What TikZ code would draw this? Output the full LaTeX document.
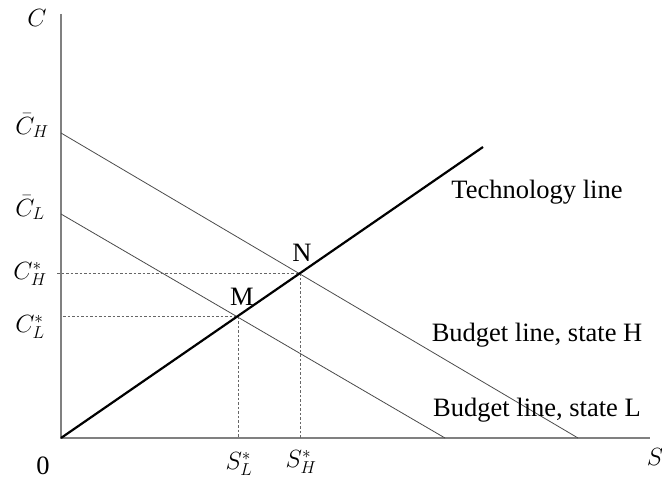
\documentclass[tikz,border=0pt]{standalone}
\usepackage{fontspec}
\setmainfont{Liberation Serif}
\begin{document}
\begin{tikzpicture}[x=1pt,y=-1pt,
  axis/.style={draw=black!50,line width=1.2pt},
  budget/.style={draw=black!70,line width=0.8pt},
  tech/.style={draw=black,line width=2.2pt},
  guide/.style={draw=black!60,line width=0.7pt,dash pattern=on 2.5pt off 2pt},
  lbl/.style={font=\fontsize{26.5}{30}\selectfont,inner sep=0pt},
  mlbl/.style={font=\fontsize{27}{30}\selectfont,inner sep=0pt}]
\useasboundingbox (0,0) rectangle (662,481);
% key coordinates
\coordinate (O) at (61,438);
\coordinate (ytop) at (61,14);
\coordinate (xend) at (650,438);
\coordinate (CH) at (61,133);
\coordinate (CL) at (61,214);
\coordinate (BH) at (578,438);
\coordinate (BL) at (445,438);
\coordinate (T) at (483,147);
\coordinate (N) at (300,273.5);
\coordinate (M) at (238,316.5);
\coordinate (NS) at (300,438);
\coordinate (MS) at (238,438);
\coordinate (NC) at (57,273.5);
\coordinate (MC) at (63,316.5);
% axes
\draw[axis] (ytop) -- (O) -- (xend);
% budget lines
\draw[budget] (CH) -- (BH);
\draw[budget] (CL) -- (BL);
% guides
\draw[guide] (NC) -- (N) -- (NS);
\draw[guide] (MC) -- (M) -- (MS);
% technology
\draw[tech] (O) -- (T);
% labels
\node[mlbl] (lC) at (37,18) {$C$};
\node[mlbl] (lCH) at (32,126) {$\bar{C}_H$};
\node[mlbl] (lCL) at (30,208) {$\bar{C}_L$};
\node[mlbl] (lCHs) at (30,274) {$C_H^*$};
\node[mlbl] (lCLs) at (30,327) {$C_L^*$};
\node[lbl] (l0) at (43,466) {0};
\node[mlbl] (lSL) at (239,464) {$S_L^*$};
\node[mlbl] (lSH) at (301,462) {$S_H^*$};
\node[mlbl] (lS) at (655,457) {$S$};
\node[lbl] (lN) at (302,253) {N};
\node[lbl] (lM) at (242,297) {M};
\node[lbl] (lT) at (537,192) {Technology line};
\node[lbl] (lBH) at (537,335) {Budget line, state H};
\node[lbl] (lBL) at (537,410) {Budget line, state L};
\end{tikzpicture}
\end{document}
